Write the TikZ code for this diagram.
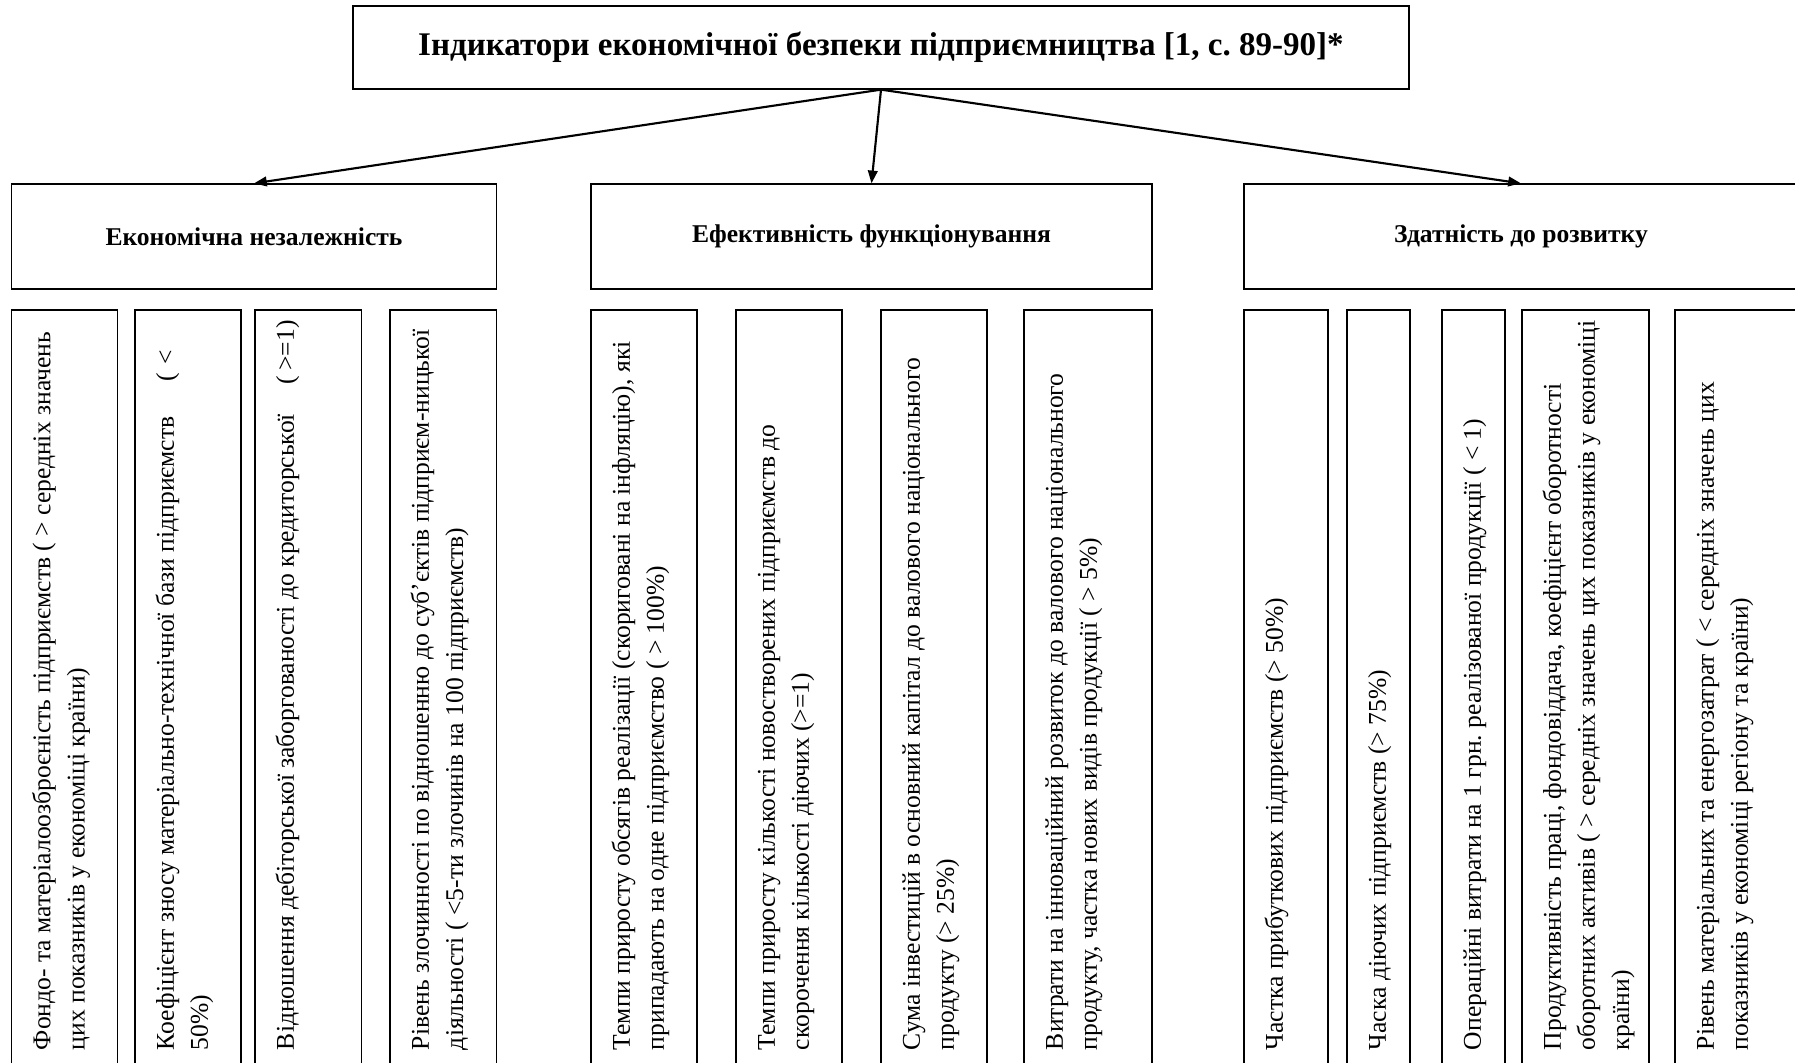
\documentclass[tikz,border=0pt]{standalone}
\usepackage{fontspec}
\setmainfont{Liberation Serif}
\usepackage{tikz}
\usetikzlibrary{arrows.meta}
\newlength{\pxl}
\setlength{\pxl}{0.4693pt}
\frenchspacing

\begin{document}
\begin{tikzpicture}[x=0.4693pt, y=-0.4693pt,
  head/.style={draw, line width=0.6pt, inner sep=0pt, font=\fontsize{15.5}{19}\selectfont\bfseries},
  group/.style={draw, line width=0.6pt, inner sep=0pt, minimum height=105\pxl, font=\fontsize{12}{14}\selectfont\bfseries},
  ind/.style={draw, line width=0.6pt, rotate=90, inner xsep=0pt, inner ysep=15\pxl,
    execute at begin node={\begin{minipage}[c][\dimexpr#1\pxl-30\pxl\relax][t]{760\pxl}%
      \fontsize{12}{16}\selectfont\frenchspacing\leftskip=20\pxl\rightskip=0pt plus 1fil%
      \hyphenpenalty=10000\exhyphenpenalty=10000\strut},
    execute at end node={\end{minipage}}},
  arr/.style={line width=1pt, -{Triangle[length=6pt,width=4.5pt]}}]

\useasboundingbox (0,0) rectangle (1795,1063) ;
\clip (0,0) rectangle (1795,1063) ;

\node[head, minimum width=1056\pxl, minimum height=83\pxl] (title) at (881,47.5) {Індикатори економічної безпеки підприємництва [1, с. 89-90]*} ;

\node[group, minimum width=485\pxl] (econ) at (254,236.5) {Економічна незалежність} ;
\node[group, minimum width=561\pxl] (effic) at (871.5,236.5) {Ефективність функціонування} ;
\node[group, minimum width=554\pxl] (devel) at (1521,236.5) {Здатність до розвитку} ;

\draw[arr] (title.south) -- (econ.north) ;
\draw[arr] (title.south) -- (effic.north) ;
\draw[arr] (title.south) -- (devel.north) ;

\node[ind=106] (econ1) at (64.6,690) {Фондо- та матеріалоозброєність підприємств ( > середніх значень\\ цих показників у економіці країни)} ;
\node[ind=106] (econ2) at (188,690) {Коефіцієнт зносу матеріально-технічної бази підприємств\hspace{35\pxl}(\hspace{8\pxl}<\\ 50\%)} ;
\node[ind=106.6] (econ3) at (308.3,690) {Відношення дебіторської заборгованості до кредиторської\hspace{30\pxl}(\hspace{5\pxl}>=1)} ;
\node[ind=106.5] (econ4) at (443.3,690) {Рівень злочинності по відношенню до суб’єктів підприєм-ницької\\ діяльності ( <5-ти злочинів на 100 підприємств)} ;

\node[ind=106] (effic1) at (644,690) {Темпи приросту обсягів реалізації (скориговані на інфляцію), які\\ припадають на одне підприємство ( > 100\%)} ;
\node[ind=106] (effic2) at (789,690) {Темпи приросту кількості новостворених підприємств до\\ скорочення кількості діючих (>=1)} ;
\node[ind=106] (effic3) at (934,690) {Сума інвестицій в основний капітал до валового національного\\ продукту (> 25\%)} ;
\node[ind=128] (effic4) at (1088,690) {Витрати на інноваційний розвиток до валового національного\\ продукту, частка нових видів продукції ( > 5\%)} ;

\node[ind=84] (devel1) at (1286,690) {Частка прибуткових підприємств (> 50\%)} ;
\node[ind=63] (devel2) at (1378.5,690) {Часка діючих підприємств (> 75\%)} ;
\node[ind=63] (devel3) at (1473.5,690) {Операційні витрати на 1 грн. реалізованої продукції ( < 1)} ;
\node[ind=127] (devel4) at (1585.5,690) {Продуктивність праці, фондовіддача, коефіцієнт оборотності\\ оборотних активів ( > середніх значень цих показників у економіці\\ країни)} ;
\node[ind=125] (devel5) at (1737.5,690) {Рівень матеріальних та енергозатрат ( < середніх значень цих\\ показників у економіці регіону та країни)} ;
\end{tikzpicture}
\end{document}
